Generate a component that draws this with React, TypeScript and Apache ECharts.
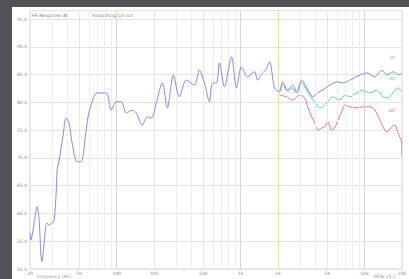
import React, { useEffect, useRef } from "react";
import * as echarts from "echarts";

const freqMain = [20, 20.3, 21.6, 22.8, 23.6, 24.9, 26.8, 27.4, 28.5, 30.1, 31.3, 32.5, 33.1, 34.3, 37, 39.1, 41.3, 43.7, 48, 51.7, 56.7, 60, 69.6, 82.3, 90.3, 99.1, 108.8, 119.4, 133.5, 143.9, 160.8, 176.5, 190.2, 208.6, 233.4, 256.2, 286.4, 320.2, 364.8, 423.6, 464.8, 510, 560, 592, 637.8, 674.4, 740.2, 843.4, 925.4, 1015.6, 1135.6, 1293.6, 1368, 1474, 1588, 1710, 1877, 2060, 2178, 2392, 2624, 2828, 3104, 3406, 3602, 3808, 4180, 4588, 5228, 5954, 6660, 7584, 9136, 10406, 12076, 13760, 15102, 16882, 19232, 20000];
const dbMain = [56.5, 55.2, 58.3, 61.2, 59.4, 51.3, 57.6, 58.3, 57.9, 58.3, 58.8, 63.7, 67.8, 69.5, 74.1, 77.2, 76.3, 72.7, 69.3, 69.3, 75.0, 78.3, 81.7, 81.7, 78.6, 80.1, 80.1, 78.1, 78.6, 78.1, 75.9, 77.4, 77.2, 79.9, 83.5, 79.0, 84.9, 81.0, 84.0, 83.1, 85.8, 83.5, 80.1, 83.5, 83.5, 87.1, 82.8, 88.2, 82.6, 86.4, 84.6, 85.5, 84.0, 85.1, 85.8, 87.3, 82.6, 81.9, 83.7, 82.2, 83.1, 81.9, 84.0, 82.6, 81.7, 81.0, 81.7, 82.2, 83.1, 83.7, 83.5, 84.0, 84.9, 85.3, 84.6, 85.8, 84.9, 85.5, 84.9, 85.3];

const freqGreen = [2060, 2178, 2392, 2624, 2828, 3104, 3406, 3602, 3952, 4338, 4588, 5036, 5526, 6296, 6910, 7584, 8638, 9660, 11004, 12538, 14016, 15382, 16882, 18532, 20000];
const dbGreen = [82.1, 83.2, 82.0, 82.6, 81.6, 83.5, 82.2, 81.3, 80.1, 79.0, 79.2, 80.1, 81.0, 80.4, 81.3, 81.0, 81.7, 82.2, 81.7, 82.2, 81.0, 80.8, 81.7, 82.6, 81.9];

const freqPink = [2060, 2348, 2624, 2990, 3282, 3470, 3738, 3952, 4180, 4504, 4762, 5036, 5426, 5738, 6066, 6534, 6910, 7584, 8638, 9660, 11004, 12076, 13258, 15102, 16572, 17526, 18532, 19800, 20000];
const dbPink = [81.3, 81.0, 80.4, 81.3, 80.8, 79.2, 77.4, 76.3, 75.0, 75.4, 75.6, 76.5, 75.0, 75.4, 76.8, 78.3, 79.5, 79.2, 79.0, 79.2, 79.2, 78.6, 76.8, 74.7, 75.6, 75.9, 74.5, 72.9, 70.2];

const xLabelFreqs = [20, 50, 100, 200, 500, 1000, 2000, 5000, 10000, 20000];
const xLabelTexts = ["20", "50", "100", "200", "500", "1k", "2k", "5k", "10k", "20k"];
const minorFreqs = [30, 40, 60, 70, 80, 90, 300, 400, 600, 700, 800, 900, 3000, 4000, 6000, 7000, 8000, 9000];
const decadeFreqs = [100, 1000, 10000];
const highlightFreq = 2000;

const seriesNames = ["0°", "30°", "60°"];
const seriesColors = ["#8580ea", "#4ed2a2", "#e8689a"];

const FONT = "DejaVu Sans";

export default function App() {
  const ref = useRef<HTMLDivElement>(null);
  useEffect(() => {
    if (!ref.current) return;
    const chart = echarts.init(ref.current, undefined, { renderer: "svg" });
    const zip = (f: number[], v: number[]) => f.map((x, i) => [x, v[i]]);

    const gridLines: any[] = [];
    minorFreqs.forEach((f) =>
      gridLines.push({ xAxis: f, label: { show: false }, lineStyle: { color: "#ededed", width: 1, type: "solid" } })
    );
    xLabelFreqs.forEach((f, i) => {
      const isDecade = decadeFreqs.includes(f);
      const isHi = f === highlightFreq;
      gridLines.push({
        xAxis: f,
        label: {
          show: true,
          position: "start",
          formatter: xLabelTexts[i],
          fontSize: 4.5,
          color: "#8a8a8a",
          fontFamily: FONT,
          distance: 1.5,
        },
        lineStyle: {
          color: isHi ? "#e2dfa6" : isDecade ? "#d6d6d6" : "#e6e6e6",
          width: 1,
          type: "solid",
        },
      });
    });

    const endLabel = (name: string, color: string, f: number, v: number) => ({
      symbol: "circle",
      symbolSize: 0,
      data: [
        {
          coord: [f, v],
          label: { show: true, formatter: name, fontSize: 4.5, color, fontFamily: FONT, position: "inside" },
        },
      ],
    });

    const lineSeries = (idx: number, f: number[], v: number[], z: number, labelDb: number) => ({
      name: seriesNames[idx],
      type: "line",
      data: zip(f, v),
      showSymbol: false,
      smooth: 0.3,
      lineStyle: { color: seriesColors[idx], width: 1, opacity: 0.95 },
      itemStyle: { color: seriesColors[idx] },
      z,
      markPoint: endLabel(seriesNames[idx], seriesColors[idx], 16882, labelDb),
    });

    chart.setOption({
      animation: false,
      backgroundColor: "#ffffff",
      textStyle: { fontFamily: FONT },
      grid: { left: 18, top: 3.7, right: 7, bottom: 10, show: true, borderColor: "#d2d2d2", borderWidth: 1 },
      xAxis: {
        type: "log",
        logBase: 10,
        min: 20,
        max: 20000,
        axisLabel: { show: false },
        axisTick: { show: false },
        splitLine: { show: false },
        minorSplitLine: { show: false },
        axisLine: { show: false },
      },
      yAxis: {
        type: "value",
        min: 50,
        max: 96.5,
        interval: 5,
        axisLabel: {
          fontSize: 4.5,
          color: "#8a8a8a",
          margin: 3,
          fontFamily: FONT,
          formatter: (v: number) => (v % 5 === 0 ? v.toFixed(1) : ""),
        },
        axisTick: { show: false },
        axisLine: { show: false },
        splitLine: { show: true, lineStyle: { color: "#e3e3e3", width: 1 } },
      },
      graphic: [
        { type: "text", left: 20, top: 6, style: { text: "FR Response dB", fontSize: 4.5, fill: "#808080", fontFamily: FONT } },
        { type: "text", left: 80, top: 6, style: { text: "smoothing 1/3 oct", fontSize: 4.5, fill: "#808080", fontFamily: FONT } },
        { type: "text", left: 25, top: 266.5, style: { text: "Frequency (Hz)", fontSize: 4.5, fill: "#999", fontFamily: FONT } },
        { type: "text", left: 362, top: 266.5, style: { text: "REW v5.2", fontSize: 4.5, fill: "#999", fontFamily: FONT } },
      ],
      series: [
        {
          name: "grid",
          type: "line",
          data: [],
          z: 1,
          silent: true,
          markLine: { silent: true, symbol: "none", animation: false, data: gridLines },
        },
        lineSeries(2, freqPink, dbPink, 3, 78.5),
        lineSeries(1, freqGreen, dbGreen, 4, 84.3),
        lineSeries(0, freqMain, dbMain, 5, 88.0),
      ],
    });
    return () => chart.dispose();
  }, []);

  return (
    <div style={{ position: "fixed", left: 0, top: 0, width: 409, height: 279, background: "#545257", overflow: "hidden" }}>
      <div ref={ref} style={{ position: "absolute", left: 12, top: 7, width: 397, height: 272 }} />
    </div>
  );
}
